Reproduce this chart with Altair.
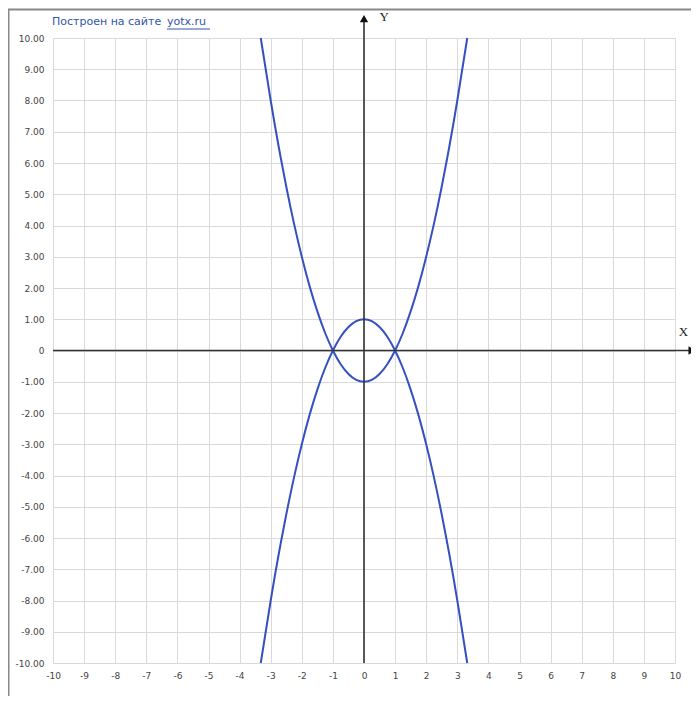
import altair as alt
import pandas as pd

# Data
x_vals = [-3.32, -3.0, -2.75, -2.5, -2.25, -2.0, -1.75, -1.5, -1.25, -1.0, -0.75, -0.5, -0.25,
          0.0, 0.25, 0.5, 0.75, 1.0, 1.25, 1.5, 1.75, 2.0, 2.25, 2.5, 2.75, 3.0, 3.32]
upper_y = [10.0, 8.0, 6.56, 5.25, 4.06, 3.0, 2.06, 1.25, 0.56, 0.0, -0.44, -0.75, -0.94,
           -1.0, -0.94, -0.75, -0.44, 0.0, 0.56, 1.25, 2.06, 3.0, 4.06, 5.25, 6.56, 8.0, 10.0]
lower_y = [-10.0, -8.0, -6.56, -5.25, -4.06, -3.0, -2.06, -1.25, -0.56, 0.0, 0.44, 0.75, 0.94,
           1.0, 0.94, 0.75, 0.44, 0.0, -0.56, -1.25, -2.06, -3.0, -4.06, -5.25, -6.56, -8.0, -10.0]
x_ticks = list(range(-10, 11))
y_ticks = list(range(-10, 11))

W, H = 622, 625
BLUE = "#3550c0"
AX = "#333333"

df = pd.DataFrame(
    {"x": x_vals * 2, "y": upper_y + lower_y, "s": ["a"] * len(x_vals) + ["b"] * len(x_vals)}
)

xs = alt.Scale(domain=[-10, 10], nice=False, zero=False)
ys = alt.Scale(domain=[-10, 10], nice=False, zero=False)

x_axis = alt.Axis(values=x_ticks, grid=True, gridColor="#d9d9d9", gridWidth=1, domain=False,
                  ticks=False, labelFont="DejaVu Sans", labelFontSize=9, labelColor="#444",
                  labelPadding=8, title=None, labelFlush=False, labelOverlap=False,
                  labelExpr="'' + datum.value")
y_axis = alt.Axis(values=y_ticks, grid=True, gridColor="#d9d9d9", gridWidth=1, domain=False,
                  ticks=False, labelFont="DejaVu Sans", labelFontSize=9, labelColor="#444",
                  labelPadding=9, title=None, labelFlush=False, labelOverlap=False,
                  labelExpr="datum.value == 0 ? '0' : (datum.value < 0 ? '-' : '') + format(abs(datum.value), '.2f')")


def X(f):
    return alt.X(f, type="quantitative", scale=xs, axis=x_axis)


def Y(f):
    return alt.Y(f, type="quantitative", scale=ys, axis=y_axis)


curves = alt.Chart(df).mark_line(color=BLUE, strokeWidth=2, interpolate="natural").encode(
    x=X("x"), y=Y("y"), detail="s:N",
)

yaxis_line = alt.Chart(pd.DataFrame({"x": [0], "y": [-10], "y2": [10.6]})).mark_rule(
    color=AX, strokeWidth=1.6).encode(x=X("x"), y=Y("y"), y2="y2:Q")
xaxis_line = alt.Chart(pd.DataFrame({"x": [-10], "x2": [10.45], "y": [0]})).mark_rule(
    color=AX, strokeWidth=1.6).encode(x=X("x"), x2="x2:Q", y=Y("y"))

arrow_up = alt.Chart(pd.DataFrame({"x": [0], "y": [10.62]})).mark_point(
    shape="triangle-up", filled=True, color="#111", size=70, opacity=1).encode(x=X("x"), y=Y("y"))
arrow_right = alt.Chart(pd.DataFrame({"x": [10.55], "y": [0]})).mark_point(
    shape="triangle-right", filled=True, color="#111", size=70, opacity=1).encode(x=X("x"), y=Y("y"))

axis_names = alt.Chart(pd.DataFrame({"x": [0.5, 10.12], "y": [10.66, 0.58], "t": ["Y", "X"]})).mark_text(
    font="Liberation Serif", fontSize=13, color="#222", align="left", baseline="middle").encode(
    x=X("x"), y=Y("y"), text="t:N")

title1 = alt.Chart(pd.DataFrame({"t": ["Построен на сайте"]})).mark_text(
    font="DejaVu Sans", fontSize=11, color="#3355aa", align="left", baseline="middle").encode(
    x=alt.value(-1), y=alt.value(-16), text="t:N")
title2 = alt.Chart(pd.DataFrame({"t": ["yotx.ru"]})).mark_text(
    font="DejaVu Sans", fontSize=11, color="#3355aa", align="left", baseline="middle").encode(
    x=alt.value(114), y=alt.value(-16), text="t:N")
underline = alt.Chart(pd.DataFrame({"a": [0]})).mark_rule(color="#3355aa", strokeWidth=1).encode(
    x=alt.value(114), x2=alt.value(157), y=alt.value(-9))

border_top = alt.Chart(pd.DataFrame({"a": [0]})).mark_rule(color="#888", strokeWidth=2).encode(
    x=alt.value(-45), x2=alt.value(W + 40), y=alt.value(-28.5))
border_left = alt.Chart(pd.DataFrame({"a": [0]})).mark_rule(color="#888", strokeWidth=2).encode(
    x=alt.value(-44.5), y=alt.value(-29), y2=alt.value(H + 40))

chart = alt.layer(
    curves, yaxis_line, xaxis_line, arrow_up, arrow_right, axis_names,
    title1, title2, underline, border_top, border_left,
).properties(
    width=W, height=H,
    autosize=alt.AutoSizeParams(type="none"),
    padding={"left": 45, "top": 30, "right": 16, "bottom": 33},
).configure_view(stroke=None).configure(background="white")

chart.save("out.html", embed_options={"renderer": "svg", "actions": False})
